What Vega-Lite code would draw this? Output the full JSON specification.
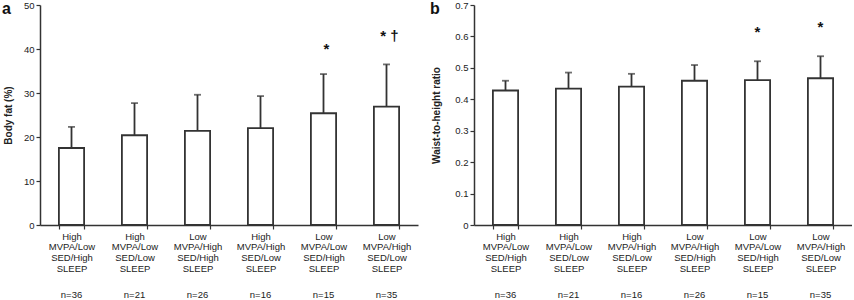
{
  "$schema": "https://vega.github.io/schema/vega-lite/v6.json",
  "padding": {"left": 2, "top": 0, "right": 0, "bottom": 0},
  "spacing": 12,
  "config": {
    "font": "Liberation Sans",
    "view": {"stroke": null},
    "axis": {
      "labelFont": "Liberation Sans",
      "labelFontSize": 9.5,
      "labelColor": "#222",
      "domainColor": "#333",
      "tickColor": "#333",
      "domainWidth": 1.5,
      "tickWidth": 1.2,
      "grid": false,
      "titleFont": "Liberation Sans",
      "titleFontSize": 10,
      "titleFontWeight": "bold",
      "titleColor": "#222"
    }
  },
  "datasets": {
    "bf": [
      {"g": "High|MVPA/Low|SED/High|SLEEP|n=36", "mean": 17.5, "upper": 22.3, "sig": null, "sigy": null},
      {"g": "High|MVPA/Low|SED/Low|SLEEP|n=21", "mean": 20.4, "upper": 27.7, "sig": null, "sigy": null},
      {"g": "Low|MVPA/High|SED/High|SLEEP|n=26", "mean": 21.4, "upper": 29.6, "sig": null, "sigy": null},
      {"g": "High|MVPA/High|SED/Low|SLEEP|n=16", "mean": 22.0, "upper": 29.3, "sig": null, "sigy": null},
      {"g": "Low|MVPA/Low|SED/High|SLEEP|n=15", "mean": 25.4, "upper": 34.3, "sig": "*", "sigy": 40.5},
      {"g": "Low|MVPA/High|SED/Low|SLEEP|n=35", "mean": 26.9, "upper": 36.5, "sig": "* †", "sigy": 43.5}
    ],
    "wh": [
      {"g": "High|MVPA/Low|SED/High|SLEEP|n=36", "mean": 0.428, "upper": 0.459, "sig": null, "sigy": null},
      {"g": "High|MVPA/Low|SED/Low|SLEEP|n=21", "mean": 0.434, "upper": 0.485, "sig": null, "sigy": null},
      {"g": "High|MVPA/High|SED/Low|SLEEP|n=16", "mean": 0.440, "upper": 0.481, "sig": null, "sigy": null},
      {"g": "Low|MVPA/High|SED/High|SLEEP|n=26", "mean": 0.459, "upper": 0.509, "sig": null, "sigy": null},
      {"g": "Low|MVPA/Low|SED/High|SLEEP|n=15", "mean": 0.461, "upper": 0.521, "sig": "*", "sigy": 0.619},
      {"g": "Low|MVPA/High|SED/Low|SLEEP|n=35", "mean": 0.467, "upper": 0.537, "sig": "*", "sigy": 0.637}
    ]
  },
  "hconcat": [
    {
      "width": 378,
      "height": 220,
      "title": {"text": "a", "anchor": "start", "frame": "group", "offset": -17, "dx": -38, "fontSize": 16, "fontWeight": "bold", "color": "#111", "font": "Liberation Sans"},
      "data": {"name": "bf"},
      "layer": [
        {
          "mark": {"type": "bar", "fill": "white", "stroke": "#333", "strokeWidth": 1.8},
          "encoding": {
            "x": {"field": "g", "type": "nominal", "sort": null,
              "scale": {"domain": ["High|MVPA/Low|SED/High|SLEEP|n=36", "High|MVPA/Low|SED/Low|SLEEP|n=21", "Low|MVPA/High|SED/High|SLEEP|n=26", "High|MVPA/High|SED/Low|SLEEP|n=16", "Low|MVPA/Low|SED/High|SLEEP|n=15", "Low|MVPA/High|SED/Low|SLEEP|n=35"], "paddingInner": 0.6, "paddingOuter": 0.3},
              "axis": {"title": null, "labelAngle": 0, "labelExpr": "datum.value ? slice(split(datum.value,'|'),0,4) : ''", "tickBand": "extent", "tickSize": 4, "labelPadding": 2, "labelLineHeight": 10.7, "labelBaseline": "top", "labelOverlap": false}},
            "y": {"field": "mean", "type": "quantitative", "title": "Body fat (%)", "scale": {"domain": [0, 50]},
              "axis": {"values": [0, 10, 20, 30, 40, 50], "tickSize": 4, "labelPadding": 2, "titlePadding": 10}}
          }
        },
        {
          "mark": {"type": "rule", "color": "#333", "strokeWidth": 1.8},
          "encoding": {
            "x": {"field": "g", "type": "nominal", "sort": null,
              "scale": {"domain": ["High|MVPA/Low|SED/High|SLEEP|n=36", "High|MVPA/Low|SED/Low|SLEEP|n=21", "Low|MVPA/High|SED/High|SLEEP|n=26", "High|MVPA/High|SED/Low|SLEEP|n=16", "Low|MVPA/Low|SED/High|SLEEP|n=15", "Low|MVPA/High|SED/Low|SLEEP|n=35"], "paddingInner": 0.6, "paddingOuter": 0.3},
              "axis": {"title": null, "orient": "bottom", "labelAngle": 0, "labelExpr": "datum.value ? split(datum.value,'|')[4] : ''", "domain": false, "ticks": false, "offset": 62, "labelPadding": 2, "labelBaseline": "top", "labelOverlap": false}},
            "y": {"field": "mean", "type": "quantitative", "title": "Body fat (%)", "scale": {"domain": [0, 50]},
              "axis": {"values": [0, 10, 20, 30, 40, 50], "tickSize": 4, "labelPadding": 2, "titlePadding": 10}},
            "y2": {"field": "upper"}
          }
        },
        {
          "mark": {"type": "tick", "color": "#333", "thickness": 1.8, "size": 7, "orient": "horizontal"},
          "encoding": {
            "x": {"field": "g", "type": "nominal", "sort": null,
              "scale": {"domain": ["High|MVPA/Low|SED/High|SLEEP|n=36", "High|MVPA/Low|SED/Low|SLEEP|n=21", "Low|MVPA/High|SED/High|SLEEP|n=26", "High|MVPA/High|SED/Low|SLEEP|n=16", "Low|MVPA/Low|SED/High|SLEEP|n=15", "Low|MVPA/High|SED/Low|SLEEP|n=35"], "paddingInner": 0.6, "paddingOuter": 0.3},
              "axis": null},
            "y": {"field": "upper", "type": "quantitative", "title": "Body fat (%)", "scale": {"domain": [0, 50]},
              "axis": {"values": [0, 10, 20, 30, 40, 50], "tickSize": 4, "labelPadding": 2, "titlePadding": 10}}
          }
        },
        {
          "transform": [{"filter": "datum.sig != null"}],
          "mark": {"type": "text", "fontSize": 15, "fontWeight": "bold", "color": "#111", "baseline": "middle", "dx": 3, "dy": 2},
          "encoding": {
            "x": {"field": "g", "type": "nominal", "sort": null,
              "scale": {"domain": ["High|MVPA/Low|SED/High|SLEEP|n=36", "High|MVPA/Low|SED/Low|SLEEP|n=21", "Low|MVPA/High|SED/High|SLEEP|n=26", "High|MVPA/High|SED/Low|SLEEP|n=16", "Low|MVPA/Low|SED/High|SLEEP|n=15", "Low|MVPA/High|SED/Low|SLEEP|n=35"], "paddingInner": 0.6, "paddingOuter": 0.3},
              "axis": null},
            "y": {"field": "sigy", "type": "quantitative", "title": "Body fat (%)", "scale": {"domain": [0, 50]},
              "axis": {"values": [0, 10, 20, 30, 40, 50], "tickSize": 4, "labelPadding": 2, "titlePadding": 10}},
            "text": {"field": "sig"}
          }
        }
      ],
      "resolve": {"scale": {"x": "independent"}, "axis": {"x": "independent"}}
    },
    {
      "width": 378,
      "height": 220,
      "title": {"text": "b", "anchor": "start", "frame": "group", "offset": -17, "dx": -44, "fontSize": 16, "fontWeight": "bold", "color": "#111", "font": "Liberation Sans"},
      "data": {"name": "wh"},
      "layer": [
        {
          "mark": {"type": "bar", "fill": "white", "stroke": "#333", "strokeWidth": 1.8},
          "encoding": {
            "x": {"field": "g", "type": "nominal", "sort": null,
              "scale": {"domain": ["High|MVPA/Low|SED/High|SLEEP|n=36", "High|MVPA/Low|SED/Low|SLEEP|n=21", "High|MVPA/High|SED/Low|SLEEP|n=16", "Low|MVPA/High|SED/High|SLEEP|n=26", "Low|MVPA/Low|SED/High|SLEEP|n=15", "Low|MVPA/High|SED/Low|SLEEP|n=35"], "paddingInner": 0.6, "paddingOuter": 0.3},
              "axis": {"title": null, "labelAngle": 0, "labelExpr": "datum.value ? slice(split(datum.value,'|'),0,4) : ''", "tickBand": "extent", "tickSize": 4, "labelPadding": 2, "labelLineHeight": 10.7, "labelBaseline": "top", "labelOverlap": false}},
            "y": {"field": "mean", "type": "quantitative", "title": "Waist-to-height ratio", "scale": {"domain": [0, 0.7]},
              "axis": {"values": [0, 0.1, 0.2, 0.3, 0.4, 0.5, 0.6, 0.7], "format": "~g", "tickSize": 4, "labelPadding": 2, "titlePadding": 13, "labelOverlap": false}}
          }
        },
        {
          "mark": {"type": "rule", "color": "#333", "strokeWidth": 1.8},
          "encoding": {
            "x": {"field": "g", "type": "nominal", "sort": null,
              "scale": {"domain": ["High|MVPA/Low|SED/High|SLEEP|n=36", "High|MVPA/Low|SED/Low|SLEEP|n=21", "High|MVPA/High|SED/Low|SLEEP|n=16", "Low|MVPA/High|SED/High|SLEEP|n=26", "Low|MVPA/Low|SED/High|SLEEP|n=15", "Low|MVPA/High|SED/Low|SLEEP|n=35"], "paddingInner": 0.6, "paddingOuter": 0.3},
              "axis": {"title": null, "orient": "bottom", "labelAngle": 0, "labelExpr": "datum.value ? split(datum.value,'|')[4] : ''", "domain": false, "ticks": false, "offset": 62, "labelPadding": 2, "labelBaseline": "top", "labelOverlap": false}},
            "y": {"field": "mean", "type": "quantitative", "title": "Waist-to-height ratio", "scale": {"domain": [0, 0.7]},
              "axis": {"values": [0, 0.1, 0.2, 0.3, 0.4, 0.5, 0.6, 0.7], "format": "~g", "tickSize": 4, "labelPadding": 2, "titlePadding": 13, "labelOverlap": false}},
            "y2": {"field": "upper"}
          }
        },
        {
          "mark": {"type": "tick", "color": "#333", "thickness": 1.8, "size": 7, "orient": "horizontal"},
          "encoding": {
            "x": {"field": "g", "type": "nominal", "sort": null,
              "scale": {"domain": ["High|MVPA/Low|SED/High|SLEEP|n=36", "High|MVPA/Low|SED/Low|SLEEP|n=21", "High|MVPA/High|SED/Low|SLEEP|n=16", "Low|MVPA/High|SED/High|SLEEP|n=26", "Low|MVPA/Low|SED/High|SLEEP|n=15", "Low|MVPA/High|SED/Low|SLEEP|n=35"], "paddingInner": 0.6, "paddingOuter": 0.3},
              "axis": null},
            "y": {"field": "upper", "type": "quantitative", "title": "Waist-to-height ratio", "scale": {"domain": [0, 0.7]},
              "axis": {"values": [0, 0.1, 0.2, 0.3, 0.4, 0.5, 0.6, 0.7], "format": "~g", "tickSize": 4, "labelPadding": 2, "titlePadding": 13, "labelOverlap": false}}
          }
        },
        {
          "transform": [{"filter": "datum.sig != null"}],
          "mark": {"type": "text", "fontSize": 15, "fontWeight": "bold", "color": "#111", "baseline": "middle", "dy": 2},
          "encoding": {
            "x": {"field": "g", "type": "nominal", "sort": null,
              "scale": {"domain": ["High|MVPA/Low|SED/High|SLEEP|n=36", "High|MVPA/Low|SED/Low|SLEEP|n=21", "High|MVPA/High|SED/Low|SLEEP|n=16", "Low|MVPA/High|SED/High|SLEEP|n=26", "Low|MVPA/Low|SED/High|SLEEP|n=15", "Low|MVPA/High|SED/Low|SLEEP|n=35"], "paddingInner": 0.6, "paddingOuter": 0.3},
              "axis": null},
            "y": {"field": "sigy", "type": "quantitative", "title": "Waist-to-height ratio", "scale": {"domain": [0, 0.7]},
              "axis": {"values": [0, 0.1, 0.2, 0.3, 0.4, 0.5, 0.6, 0.7], "format": "~g", "tickSize": 4, "labelPadding": 2, "titlePadding": 13, "labelOverlap": false}},
            "text": {"field": "sig"}
          }
        }
      ],
      "resolve": {"scale": {"x": "independent"}, "axis": {"x": "independent"}}
    }
  ]
}
